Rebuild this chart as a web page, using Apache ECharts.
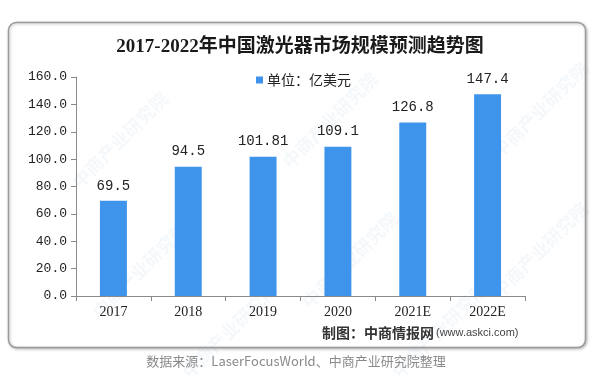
<!DOCTYPE html>
<html><head><meta charset="utf-8">
<script src="https://cdn.jsdelivr.net/npm/echarts@6/dist/echarts.min.js"></script>
<style>html,body{margin:0;padding:0;background:#fff;}#c{width:600px;height:390px;}</style>
</head><body><div id="c"></div>
<script>
const categories = ['2017','2018','2019','2020','2021E','2022E'];
const values = [69.5, 94.5, 101.81, 109.1, 126.8, 147.4];
const valueLabels = ['69.5','94.5','101.81','109.1','126.8','147.4'];
const seriesName = '单位：亿美元';
const titleText = '2017-2022年中国激光器市场规模预测趋势图';
const creditBold = '制图：中商情报网';
const creditUrl = '(www.askci.com)';
const sourceText = '数据来源：LaserFocusWorld、中商产业研究院整理';

const chart = echarts.init(document.getElementById('c'), null, {renderer:'canvas'});
const wm = [];
const wmPos = [[120,140],[330,120],[540,110],[140,270],[350,260],[540,250],[230,330],[440,330]];
wmPos.forEach(p=>{
  wm.push({type:'text', x:p[0], y:p[1], rotation:Math.PI/4, z:0, silent:true,
    style:{text:'中商产业研究院', fill:'rgba(120,160,200,0.08)', font:'bold 18px "Noto Sans CJK SC"', align:'center', verticalAlign:'middle'}});
});
chart.setOption({
  animation:false,
  backgroundColor:'#fff',
  title:{text:titleText, left:'center', top:33,
    textStyle:{fontFamily:'"Liberation Serif","Noto Sans CJK SC"', fontWeight:'bold', fontSize:19, color:'#1a1a1a'}},
  legend:{data:[seriesName], left:251, top:68, itemWidth:7, itemHeight:7, icon:'rect', itemGap:4,
    textStyle:{fontFamily:'"Noto Sans CJK SC"', fontSize:14, color:'#222', padding:[0,0,0,-1]}},
  grid:{left:76, right:75, top:77, bottom:94, containLabel:false},
  xAxis:{type:'category', data:categories,
    axisLine:{lineStyle:{color:'#8a8a8a', width:1}},
    axisTick:{show:true, length:5, lineStyle:{color:'#8a8a8a'}},
    axisLabel:{fontFamily:'"Liberation Serif"', fontSize:14, color:'#222', margin:9}},
  yAxis:{type:'value', min:0, max:160, interval:20,
    axisLine:{show:true, lineStyle:{color:'#8a8a8a', width:1}},
    axisTick:{show:true, length:5, lineStyle:{color:'#8a8a8a'}},
    splitLine:{show:false},
    axisLabel:{fontFamily:'"Liberation Mono"', fontSize:13, color:'#222', margin:9,
      formatter:v=>v.toFixed(1)}},
  series:[{name:seriesName, type:'bar', data:values, barWidth:'36%', z:3,
    itemStyle:{color:'#3d94ea'},
    label:{show:true, position:'top', distance:8, fontFamily:'"Liberation Mono"', fontSize:14, color:'#222',
      formatter:p=>valueLabels[p.dataIndex]}}],
  graphic:[
    {type:'rect', shape:{x:8.5, y:22.5, width:577, height:325, r:8}, z:-1, silent:true,
      style:{fill:'#fff', stroke:'#9a9a9a', lineWidth:1.5, shadowBlur:3, shadowColor:'rgba(0,0,0,0.25)', shadowOffsetX:1, shadowOffsetY:1}},
    ...wm,
    {type:'text', x:322, y:333, silent:true,
      style:{text:creditBold, font:'bold 14px "Noto Sans CJK SC"', fill:'#333', verticalAlign:'middle'}},
    {type:'text', x:436, y:333, silent:true,
      style:{text:creditUrl, font:'11px "Liberation Sans Narrow","Liberation Sans"', fill:'#444', verticalAlign:'middle'}},
    {type:'text', x:296, y:361, silent:true,
      style:{text:sourceText, font:'13px "Noto Sans CJK SC"', fill:'#8a8a8a', align:'center', verticalAlign:'middle'}}
  ]
});
</script></body></html>
